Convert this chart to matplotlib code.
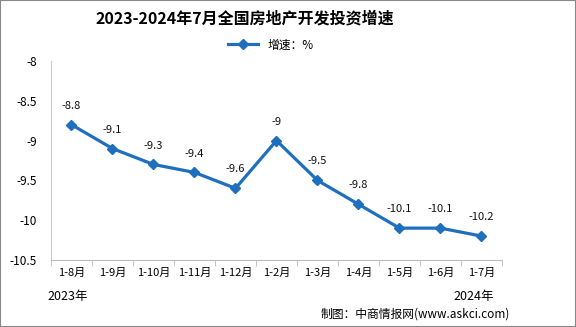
import matplotlib
matplotlib.use("Agg")
import matplotlib.pyplot as plt
from matplotlib.patches import Rectangle

plt.rcParams['font.family'] = ['Noto Sans CJK SC', 'DejaVu Sans']

categories = ['1-8月', '1-9月', '1-10月', '1-11月', '1-12月', '1-2月', '1-3月', '1-4月', '1-5月', '1-6月', '1-7月']
values = [-8.8, -9.1, -9.3, -9.4, -9.6, -9.0, -9.5, -9.8, -10.1, -10.1, -10.2]
labels = ['-8.8', '-9.1', '-9.3', '-9.4', '-9.6', '-9', '-9.5', '-9.8', '-10.1', '-10.1', '-10.2']
yticks = [-8, -8.5, -9, -9.5, -10, -10.5]
ytick_labels = ['-8', '-8.5', '-9', '-9.5', '-10', '-10.5']

fig = plt.figure(figsize=(5.76, 3.27), dpi=100)
ax = fig.add_axes([0.0885, 0.205, 0.783, 0.6085])

x = list(range(len(categories)))
color = '#1f6fbf'
line, = ax.plot(x, values, color=color, lw=2.3, marker='D', ms=5, label='增速：%')
for xi, v, t in zip(x, values, labels):
    ax.annotate(t, (xi, v), xytext=(0, 10), textcoords='offset points',
                ha='center', va='bottom', fontsize=8, color='#111111')

ax.set_xlim(-0.5, len(categories) - 0.5)
ax.set_ylim(-10.5, -8)
ax.set_yticks(yticks)
ax.set_yticklabels(ytick_labels, fontsize=8.5)
ax.set_xticks(x)
ax.set_xticklabels(categories, fontsize=8)
ax.set_xticks([i - 0.5 for i in range(len(categories) + 1)], minor=True)
ax.tick_params(axis='x', which='major', length=0, pad=6)
ax.tick_params(axis='x', which='minor', length=4, color='#bbbbbb')
ax.tick_params(axis='y', length=0, pad=10)
for s in ['top', 'right']:
    ax.spines[s].set_visible(False)
ax.spines['left'].set_color('#cccccc')
ax.spines['bottom'].set_color('#bbbbbb')

fig.text(0.425, 0.945, '2023-2024年7月全国房地产开发投资增速', ha='center', va='center',
         fontsize=11.5, fontweight='bold')
leg = fig.legend(handles=[line], loc='center', bbox_to_anchor=(0.47, 0.862), frameon=False,
                 fontsize=8.5, handlelength=2.5)

fig.text(0.118, 0.093, '2023年', ha='center', va='center', fontsize=9)
fig.text(0.822, 0.093, '2024年', ha='center', va='center', fontsize=9)
fig.text(0.885, 0.04, '制图：中商情报网(www.askci.com)', ha='right', va='center', fontsize=8.5)

fig.patches.append(Rectangle((0, 0), 1, 1, transform=fig.transFigure, fill=False,
                             edgecolor='#888888', lw=1.5))

fig.savefig('out.png', dpi=100)
